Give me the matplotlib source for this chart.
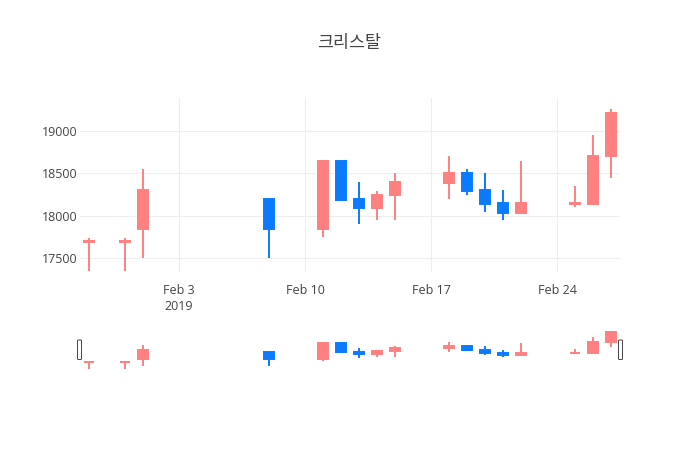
import matplotlib
matplotlib.use("Agg")
import matplotlib.pyplot as plt
import matplotlib.dates as mdates
from matplotlib.patches import FancyBboxPatch
import numpy as np
import datetime as dt

plt.rcParams['font.family'] = ['Open Sans', 'Noto Sans CJK KR', 'DejaVu Sans']

# candle data
dates = ['2019-01-29', '2019-01-31', '2019-02-01', '2019-02-08', '2019-02-11',
         '2019-02-12', '2019-02-13', '2019-02-14', '2019-02-15', '2019-02-18',
         '2019-02-19', '2019-02-20', '2019-02-21', '2019-02-22', '2019-02-25',
         '2019-02-26', '2019-02-27']
opens = [17695, 17695, 17840, 18200, 17840, 18650, 18200, 18090, 18240, 18390,
         18500, 18300, 18150, 18030, 18140, 18140, 18700]
highs = [17740, 17740, 18550, 18200, 18650, 18650, 18400, 18290, 18500, 18700,
         18550, 18500, 18300, 18650, 18350, 18950, 19250]
lows = [17350, 17350, 17500, 17500, 17750, 18190, 17900, 17950, 17950, 18200,
        18250, 18050, 17950, 18030, 18100, 18140, 18450]
closes = [17705, 17705, 18300, 17840, 18650, 18190, 18090, 18250, 18400, 18500,
          18290, 18140, 18030, 18150, 18150, 18700, 19210]

title = '크리스탈'
tick_dates = ['2019-02-03', '2019-02-10', '2019-02-17', '2019-02-24']
tick_labels = ['Feb 3\n2019', 'Feb 10', 'Feb 17', 'Feb 24']
y_ticks = [17500, 18000, 18500, 19000]

UP = '#ff8080'
DOWN = '#0a7bff'
TXT = '#444444'
GRID = '#eeeeee'

x = mdates.date2num([dt.datetime.strptime(d, '%Y-%m-%d') for d in dates])
o = np.array(opens)
h = np.array(highs)
l = np.array(lows)
c = np.array(closes)
cols = [UP if cc >= oo else DOWN for oo, cc in zip(o, c)]

x0 = mdates.date2num(dt.datetime(2019, 1, 28, 12))
x1 = mdates.date2num(dt.datetime(2019, 2, 27, 12))
ylim = (17340, 19385)


def draw_candles(ax):
    ax.vlines(x, l, h, colors=cols, linewidth=1.4, zorder=2)
    bottoms = np.minimum(o, c)
    heights = np.abs(c - o)
    ax.bar(x, heights, bottom=bottoms, width=0.58, color=cols, edgecolor=cols,
           linewidth=1.4, zorder=3)


fig = plt.figure(figsize=(7, 4.5), dpi=100)
W, H = 700, 450

ax = fig.add_axes([80 / W, 1 - 272 / H, 540 / W, 174 / H])
draw_candles(ax)
ax.set_xlim(x0, x1)
ax.set_ylim(*ylim)
ax.set_xticks(mdates.date2num([dt.datetime.strptime(d, '%Y-%m-%d') for d in tick_dates]))
ax.set_xticklabels(tick_labels)
ax.set_yticks(y_ticks)
ax.set_yticklabels([str(v) for v in y_ticks])
ax.tick_params(axis='both', length=0, labelsize=9, labelcolor=TXT)
ax.tick_params(axis='x', pad=9)
ax.tick_params(axis='y', pad=2)
ax.grid(True, color=GRID, linewidth=0.8)
ax.set_axisbelow(True)
for s in ax.spines.values():
    s.set_visible(False)
for t in ax.get_xticklabels():
    t.set_linespacing(1.3)
    t.set_verticalalignment('top')

# range slider
sl = fig.add_axes([80 / W, 1 - 369 / H, 540 / W, 40.5 / H])
draw_candles(sl)
sl.set_xlim(x0, x1)
sl.set_ylim(*ylim)
sl.set_xticks([])
sl.set_yticks([])
for s in sl.spines.values():
    s.set_visible(False)

for hx in (77.5, 618.5):
    fig.patches.append(FancyBboxPatch((hx / W, 1 - 359.5 / H), 4 / W, 19.5 / H,
                                      boxstyle='round,pad=0,rounding_size=0.0015',
                                      transform=fig.transFigure, facecolor='white',
                                      edgecolor='#444444', linewidth=0.7, zorder=5))

fig.text(349 / W, 1 - 43 / H, title, ha='center', va='center', fontsize=12.5,
         color=TXT, family=['Noto Sans CJK KR', 'DejaVu Sans'])

fig.savefig('out.png', dpi=100)
